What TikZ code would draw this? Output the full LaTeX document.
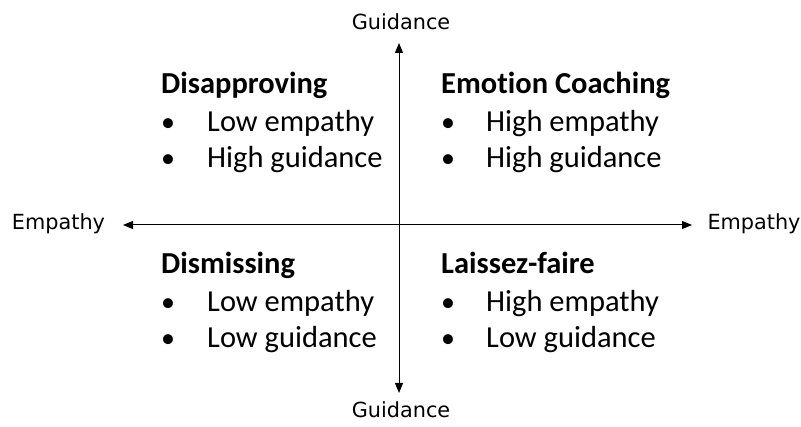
\documentclass[tikz,border=0pt]{standalone}
\usepackage{fontspec}
\setmainfont{Carlito}[Ligatures=NoCommon]
\newfontfamily\axisfont{DejaVu Sans}
\usetikzlibrary{arrows.meta}
\begin{document}
\begin{tikzpicture}[x=1pt,y=-1pt,
  axisline/.style={line width=1pt,black,{Triangle[length=10pt,width=8pt]}-{Triangle[length=10pt,width=8pt]}},
  axislabel/.style={inner sep=0pt,anchor=base,font=\axisfont\fontsize{20.8}{24}\selectfont},
  quadtitle/.style={inner sep=0pt,anchor=base west,font=\fontsize{30.5}{36}\selectfont\bfseries},
  bulletmark/.style={inner sep=0pt,anchor=base,font=\fontsize{28}{36}\selectfont},
  itemtext/.style={inner sep=0pt,anchor=base west,font=\fontsize{30.5}{36}\selectfont}]
\useasboundingbox (0,0) rectangle (801,427);
\fill[white] (0,0) rectangle (801,427);
% axes
\coordinate (xl) at (123,225);
\coordinate (xr) at (692,225);
\coordinate (yt) at (399,43);
\coordinate (yb) at (399,393);
\draw[axisline] (xl) -- (xr);
\draw[axisline] (yb) -- (yt);
% axis labels
\node[axislabel] (gtop) at (401,30) {Guidance};
\node[axislabel] (gbot) at (401,418) {Guidance};
\node[axislabel] (eleft) at (58.5,230) {Empathy};
\node[axislabel] (eright) at (754,230) {Empathy};
% top-left
\node[quadtitle] (tl) at (161,94) {Disapproving};
\node[bulletmark] (tlb1) at (168,132) {•};
\node[itemtext] (tl1) at (207,132) {Low empathy};
\node[bulletmark] (tlb2) at (168,168) {•};
\node[itemtext] (tl2) at (207,168) {High guidance};
% top-right
\node[quadtitle] (tr) at (441,94) {Emotion Coaching};
\node[bulletmark] (trb1) at (448,132) {•};
\node[itemtext] (tr1) at (486,132) {High empathy};
\node[bulletmark] (trb2) at (448,168) {•};
\node[itemtext] (tr2) at (486,168) {High guidance};
% bottom-left
\node[quadtitle] (bl) at (161,274) {Dismissing};
\node[bulletmark] (blb1) at (168,312) {•};
\node[itemtext] (bl1) at (207,312) {Low empathy};
\node[bulletmark] (blb2) at (168,348) {•};
\node[itemtext] (bl2) at (207,348) {Low guidance};
% bottom-right
\node[quadtitle] (br) at (441,274) {Laissez-faire};
\node[bulletmark] (brb1) at (448,312) {•};
\node[itemtext] (br1) at (486,312) {High empathy};
\node[bulletmark] (brb2) at (448,348) {•};
\node[itemtext] (br2) at (486,348) {Low guidance};
\end{tikzpicture}
\end{document}
